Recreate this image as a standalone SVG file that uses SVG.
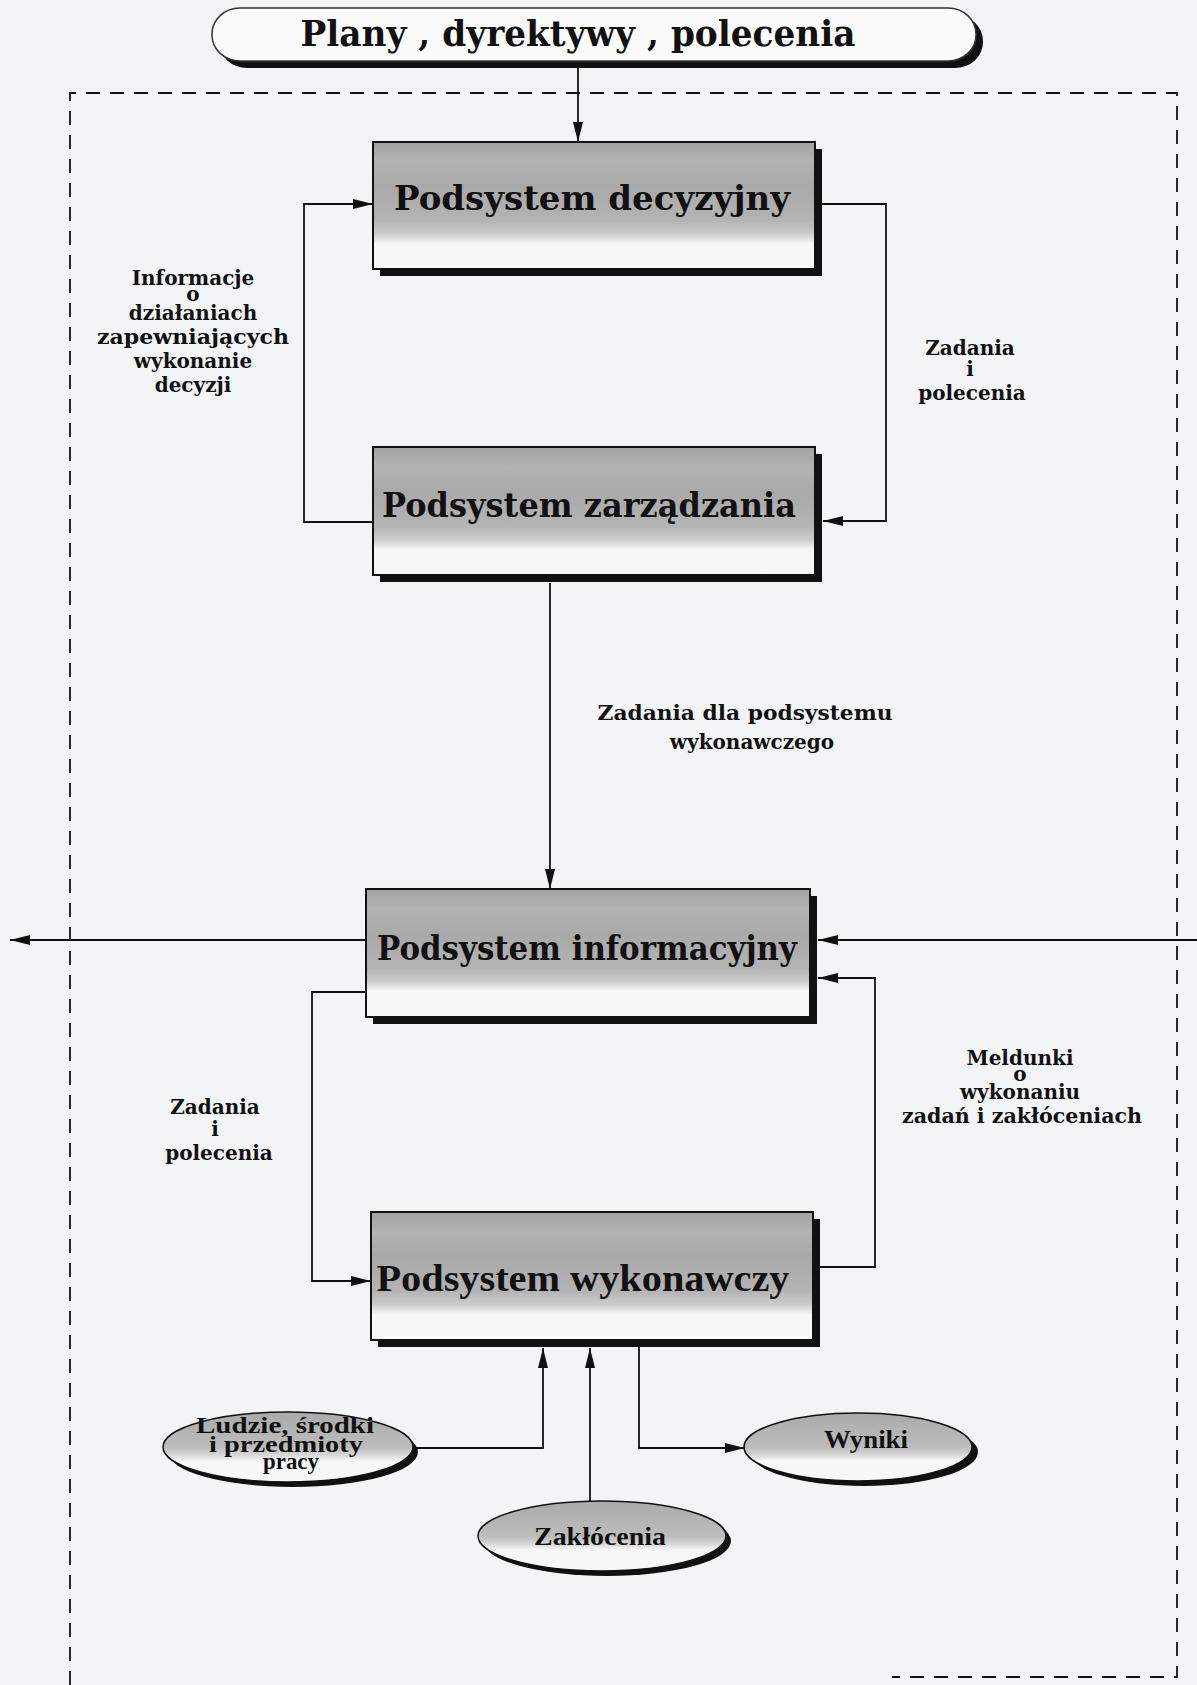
<svg xmlns="http://www.w3.org/2000/svg" width="1197" height="1685" viewBox="0 0 1197 1685">
<defs>
<style>
.bg{fill:#f3f4f6}
.box{stroke:#111;stroke-width:2;fill:url(#gbox)}
.shadow{fill:#111}
.conn{fill:none;stroke:#111;stroke-width:1.8}
.dash{fill:none;stroke:#111;stroke-width:1.8;stroke-dasharray:14 10}
.title{font-family:"DejaVu Serif","Liberation Serif",serif;font-weight:bold;fill:#111;text-anchor:middle}
.narrow{font-family:"Liberation Serif",serif;font-weight:bold;fill:#111;text-anchor:middle}
.lbl{font-family:"DejaVu Serif","Liberation Serif",serif;font-weight:bold;font-size:20px;fill:#111;text-anchor:middle}
.ell{stroke:#111;stroke-width:1.5;fill:url(#gell)}
</style>
<linearGradient id="gbox" x1="0" y1="0" x2="0" y2="1">
<stop offset="0" stop-color="#a2a2a2"/>
<stop offset="0.15" stop-color="#b3b3b3"/>
<stop offset="0.35" stop-color="#a9a9a9"/>
<stop offset="0.62" stop-color="#b4b4b4"/>
<stop offset="0.72" stop-color="#cbcbcb"/>
<stop offset="0.8" stop-color="#f6f6f6"/>
<stop offset="1" stop-color="#f8f8f8"/>
</linearGradient>
<linearGradient id="gell" x1="0" y1="0" x2="0" y2="1">
<stop offset="0" stop-color="#aaaaaa"/>
<stop offset="0.5" stop-color="#bcbcbc"/>
<stop offset="0.62" stop-color="#d8d8d8"/>
<stop offset="0.7" stop-color="#f7f7f7"/>
<stop offset="1" stop-color="#f7f7f7"/>
</linearGradient>
<marker id="arr" viewBox="0 0 20 10" refX="20" refY="5" markerWidth="20" markerHeight="10" markerUnits="userSpaceOnUse" orient="auto">
<path d="M0,0 L20,5 L0,10 z" fill="#111"/>
</marker>
</defs>
<rect class="bg" x="0" y="0" width="1197" height="1685"/>

<g id="frame">
<path class="dash" d="M70,1685 V93 H1177 V1677 H892"/>
</g>

<g id="title">
<rect class="shadow" x="219" y="15" width="764" height="53" rx="28" ry="26"/>
<rect x="212" y="8" width="764" height="53" rx="28" ry="26" fill="#fbfbfb" stroke="#333" stroke-width="1.5"/>
<text class="title" x="578" y="46" font-size="35" textLength="555" lengthAdjust="spacingAndGlyphs">Plany , dyrektywy , polecenia</text>
</g>

<g id="decyzyjny">
<rect class="shadow" x="380" y="149" width="442" height="127"/>
<rect class="box" x="373" y="142" width="442" height="127"/>
<text class="title" x="592" y="210" font-size="34" textLength="396" lengthAdjust="spacingAndGlyphs">Podsystem decyzyjny</text>
</g>

<g id="zarzadzania">
<rect class="shadow" x="380" y="454" width="442" height="128"/>
<rect class="box" x="373" y="447" width="442" height="128"/>
<text class="title" x="589" y="517" font-size="34" textLength="414" lengthAdjust="spacingAndGlyphs">Podsystem zarządzania</text>
</g>

<g id="informacyjny">
<rect class="shadow" x="373" y="896" width="444" height="128"/>
<rect class="box" x="366" y="889" width="444" height="128"/>
<text class="title" x="587" y="960" font-size="34" textLength="420" lengthAdjust="spacingAndGlyphs">Podsystem informacyjny</text>
</g>

<g id="wykonawczy">
<rect class="shadow" x="378" y="1219" width="442" height="128"/>
<rect class="box" x="371" y="1212" width="442" height="128"/>
<text class="narrow" x="583" y="1291" font-size="38" textLength="413" lengthAdjust="spacingAndGlyphs">Podsystem wykonawczy</text>
</g>

<g id="ludzie">
<ellipse class="shadow" cx="293" cy="1452" rx="125" ry="35"/>
<ellipse class="ell" cx="288" cy="1447" rx="125" ry="35"/>
<text class="narrow" font-size="23"><tspan x="285" y="1433" textLength="178" lengthAdjust="spacingAndGlyphs">Ludzie, środki</tspan><tspan x="286" y="1452" textLength="154" lengthAdjust="spacingAndGlyphs">i przedmioty</tspan><tspan x="291" y="1469" textLength="56" lengthAdjust="spacingAndGlyphs">pracy</tspan></text>
</g>

<g id="zaklocenia">
<ellipse class="shadow" cx="607" cy="1541" rx="124" ry="35"/>
<ellipse class="ell" cx="602" cy="1536" rx="124" ry="35"/>
<text class="narrow" x="600" y="1545" font-size="25" textLength="132" lengthAdjust="spacingAndGlyphs">Zakłócenia</text>
</g>

<g id="wyniki">
<ellipse class="shadow" cx="864" cy="1452" rx="114" ry="34"/>
<ellipse class="ell" cx="858" cy="1447" rx="114" ry="34"/>
<text class="narrow" x="866" y="1448" font-size="25" textLength="84" lengthAdjust="spacingAndGlyphs">Wyniki</text>
</g>

<g id="labels">
<text class="lbl"><tspan x="193" y="285">Informacje</tspan><tspan x="193" y="301">o</tspan><tspan x="193" y="320">działaniach</tspan><tspan x="193" y="344" textLength="192" lengthAdjust="spacingAndGlyphs">zapewniających</tspan><tspan x="193" y="368">wykonanie</tspan><tspan x="193" y="392">decyzji</tspan></text>
<text class="lbl"><tspan x="970" y="355">Zadania</tspan><tspan x="970" y="376">i</tspan><tspan x="972" y="400">polecenia</tspan></text>
<text class="lbl"><tspan x="745" y="720" textLength="295" lengthAdjust="spacingAndGlyphs">Zadania dla podsystemu</tspan><tspan x="752" y="749">wykonawczego</tspan></text>
<text class="lbl"><tspan x="215" y="1114">Zadania</tspan><tspan x="215" y="1136">i</tspan><tspan x="219" y="1160">polecenia</tspan></text>
<text class="lbl"><tspan x="1020" y="1065">Meldunki</tspan><tspan x="1020" y="1081">o</tspan><tspan x="1020" y="1099">wykonaniu</tspan><tspan x="1022" y="1123" textLength="240" lengthAdjust="spacingAndGlyphs">zadań i zakłóceniach</tspan></text>
</g>

<g id="connectors">
<path class="conn" d="M578,68 V142" marker-end="url(#arr)"/>
<path class="conn" d="M373,522 H304 V204 H373" marker-end="url(#arr)"/>
<path class="conn" d="M822,204 H886 V521 H823" marker-end="url(#arr)"/>
<path class="conn" d="M550,583 V889" marker-end="url(#arr)"/>
<path class="conn" d="M366,940 H10" marker-end="url(#arr)"/>
<path class="conn" d="M1197,940 H818" marker-end="url(#arr)"/>
<path class="conn" d="M366,992 H312 V1281 H371" marker-end="url(#arr)"/>
<path class="conn" d="M820,1267 H875 V978 H818" marker-end="url(#arr)"/>
<path class="conn" d="M413,1448 H543 V1348" marker-end="url(#arr)"/>
<path class="conn" d="M590,1501 V1348" marker-end="url(#arr)"/>
<path class="conn" d="M639,1347 V1448 H745" marker-end="url(#arr)"/>
</g>
</svg>
